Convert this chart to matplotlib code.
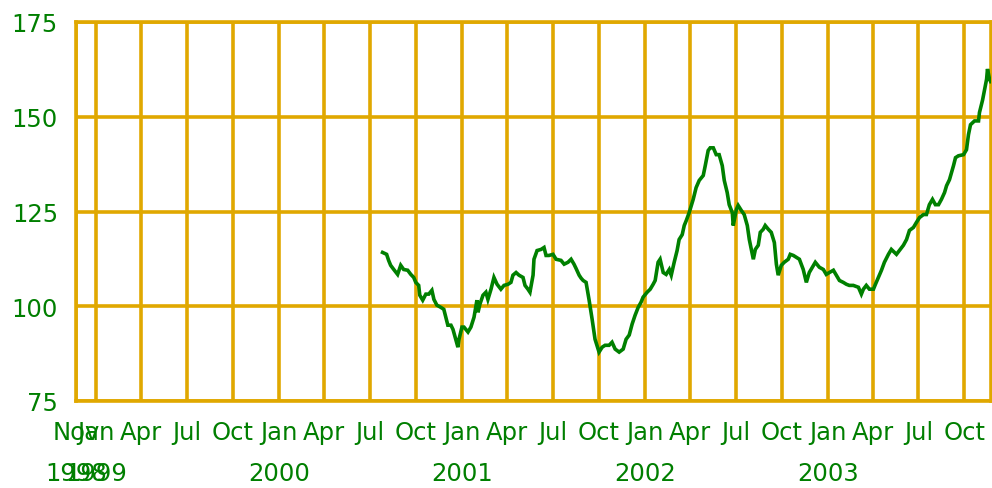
import matplotlib
matplotlib.use("Agg")
import matplotlib.pyplot as plt
from datetime import datetime

# decimal-year time stamps and index values
years = [2000.566, 2000.588, 2000.599, 2000.610, 2000.627, 2000.648, 2000.665, 2000.681,
         2000.703, 2000.720, 2000.736, 2000.747, 2000.763, 2000.769, 2000.785, 2000.802,
         2000.818, 2000.835, 2000.846, 2000.862, 2000.884, 2000.900, 2000.911, 2000.922,
         2000.939, 2000.950, 2000.966, 2000.977, 2000.983, 2000.999, 2001.010, 2001.032,
         2001.048, 2001.065, 2001.081, 2001.087, 2001.097, 2001.114, 2001.130, 2001.141,
         2001.158, 2001.174, 2001.191, 2001.212, 2001.229, 2001.251, 2001.267, 2001.278,
         2001.295, 2001.311, 2001.333, 2001.344, 2001.360, 2001.371, 2001.388, 2001.393,
         2001.410, 2001.432, 2001.448, 2001.459, 2001.475, 2001.497, 2001.514, 2001.541,
         2001.558, 2001.579, 2001.596, 2001.612, 2001.623, 2001.640, 2001.651, 2001.662,
         2001.678, 2001.694, 2001.711, 2001.727, 2001.749, 2001.766, 2001.782, 2001.804,
         2001.820, 2001.837, 2001.859, 2001.881, 2001.897, 2001.914, 2001.930, 2001.946,
         2001.963, 2001.979, 2001.990, 2002.012, 2002.029, 2002.045, 2002.056, 2002.072,
         2002.083, 2002.100, 2002.116, 2002.133, 2002.144, 2002.160, 2002.176, 2002.187,
         2002.204, 2002.215, 2002.226, 2002.242, 2002.264, 2002.280, 2002.297, 2002.319,
         2002.330, 2002.346, 2002.357, 2002.374, 2002.390, 2002.406, 2002.423, 2002.434,
         2002.450, 2002.461, 2002.478, 2002.483, 2002.500, 2002.510, 2002.527, 2002.543,
         2002.560, 2002.571, 2002.593, 2002.604, 2002.620, 2002.631, 2002.647, 2002.658,
         2002.675, 2002.691, 2002.708, 2002.719, 2002.729, 2002.746, 2002.762, 2002.784,
         2002.795, 2002.812, 2002.828, 2002.845, 2002.866, 2002.883, 2002.899, 2002.916,
         2002.932, 2002.954, 2002.976, 2002.992, 2003.009, 2003.031, 2003.047, 2003.064,
         2003.085, 2003.102, 2003.118, 2003.140, 2003.168, 2003.184, 2003.195, 2003.211,
         2003.228, 2003.250, 2003.261, 2003.277, 2003.294, 2003.310, 2003.332, 2003.348,
         2003.376, 2003.392, 2003.414, 2003.431, 2003.447, 2003.469, 2003.485, 2003.502,
         2003.524, 2003.540, 2003.556, 2003.573, 2003.589, 2003.606, 2003.622, 2003.639,
         2003.650, 2003.666, 2003.688, 2003.699, 2003.715, 2003.743, 2003.759, 2003.770,
         2003.781, 2003.803, 2003.825, 2003.830, 2003.847, 2003.858, 2003.869, 2003.874,
         2003.885, 2003.891]

values = [114.2, 113.7, 112.1, 110.8, 109.7, 108.4, 110.8, 109.7,
          109.5, 108.4, 107.6, 106.3, 105.5, 102.9, 101.6, 103.2,
          103.2, 104.2, 101.8, 100.3, 99.7, 99.2, 97.1, 95.0,
          95.0, 93.9, 91.1, 89.2, 91.3, 94.5, 94.5, 93.2,
          94.5, 97.1, 101.6, 98.4, 100.5, 102.9, 103.7, 101.8,
          104.5, 107.6, 105.8, 104.5, 105.5, 105.8, 106.3, 108.2,
          108.9, 108.2, 107.6, 105.5, 104.5, 103.7, 108.2, 112.4,
          114.7, 115.0, 115.5, 113.4, 113.4, 113.7, 112.4, 112.1,
          111.1, 111.6, 112.4, 111.1, 110.0, 108.2, 107.4, 106.8,
          106.3, 101.8, 96.6, 91.3, 87.9, 89.2, 89.7, 89.7,
          90.5, 88.7, 87.9, 88.7, 91.3, 92.4, 95.3, 97.6,
          99.7, 101.1, 102.4, 103.7, 104.5, 105.8, 106.8, 111.6,
          112.4, 108.9, 108.4, 109.7, 108.2, 111.6, 114.7, 117.6,
          118.9, 121.3, 122.6, 124.7, 128.2, 131.3, 133.2, 134.5,
          137.1, 141.1, 141.8, 141.8, 140.0, 140.0, 137.1, 133.2,
          130.0, 126.8, 124.7, 121.3, 125.5, 126.6, 125.3, 124.2,
          121.3, 117.6, 112.4, 115.0, 116.1, 119.5, 120.3, 121.3,
          120.3, 119.5, 116.8, 111.1, 108.2, 110.8, 111.6, 112.4,
          113.7, 113.4, 112.9, 112.4, 109.7, 106.3, 108.9, 110.3,
          111.6, 110.3, 109.7, 108.4, 108.9, 109.5, 108.2, 106.8,
          106.3, 105.8, 105.5, 105.5, 105.0, 103.2, 104.5, 105.5,
          104.5, 104.5, 105.8, 107.6, 109.5, 111.6, 113.7, 115.0,
          113.7, 114.7, 116.1, 117.6, 120.0, 120.8, 122.1, 123.4,
          124.2, 124.2, 126.8, 128.2, 126.8, 126.8, 128.2, 130.0,
          131.8, 133.4, 137.1, 139.2, 139.7, 140.0, 141.3, 145.3,
          147.9, 148.9, 148.9, 151.1, 154.4, 157.1, 159.9, 162.6,
          159.9, 159.3]

y_ticks = [75, 100, 125, 150, 175]
x_start = "1998-11-22"
x_end = "2003-11-23"
quarter_months = ["Jan", "Apr", "Jul", "Oct"]
first_year, last_year = 1999, 2003

GOLD = "#E0A800"
GREEN = "#007F00"


def dec_to_dt(y):
    yr = int(y)
    a = datetime(yr, 1, 1)
    b = datetime(yr + 1, 1, 1)
    return a + (b - a) * (y - yr)


dates = [dec_to_dt(y) for y in years]

fig = plt.figure(figsize=(9.92, 4.89), dpi=100)
ax = fig.add_axes([76 / 992, (489 - 402) / 489, (991 - 76) / 992, (402 - 23) / 489])

ax.plot(dates, values, color="#008000", lw=2.6, solid_joinstyle="miter", zorder=3)

ax.set_ylim(y_ticks[0], y_ticks[-1])
ax.set_yticks(y_ticks)
ax.set_yticklabels([str(v) for v in y_ticks])

xmin = datetime.fromisoformat(x_start)
xmax = datetime.fromisoformat(x_end)
ax.set_xlim(xmin, xmax)

tick_pos = [xmin]
tick_lab = [f"Nov\n{xmin.year}"]
for yr in range(first_year, last_year + 1):
    for qi, m in enumerate(quarter_months):
        d = datetime(yr, 1 + 3 * qi, 1)
        if d <= xmax:
            tick_pos.append(d)
            tick_lab.append(f"{m}\n{yr}" if qi == 0 else m)
ax.set_xticks(tick_pos)
ax.set_xticklabels(tick_lab, linespacing=1.85)

ax.grid(True, color=GOLD, lw=2.6, zorder=1)
ax.set_axisbelow(True)
for s in ax.spines.values():
    s.set_color(GOLD)
    s.set_linewidth(2.6)

ax.tick_params(axis="both", length=0, colors=GREEN, labelsize=17.5)
ax.tick_params(axis="x", pad=14)
ax.tick_params(axis="y", pad=13)
for lab in ax.get_xticklabels() + ax.get_yticklabels():
    lab.set_color(GREEN)

fig.savefig("out.png", dpi=100)
